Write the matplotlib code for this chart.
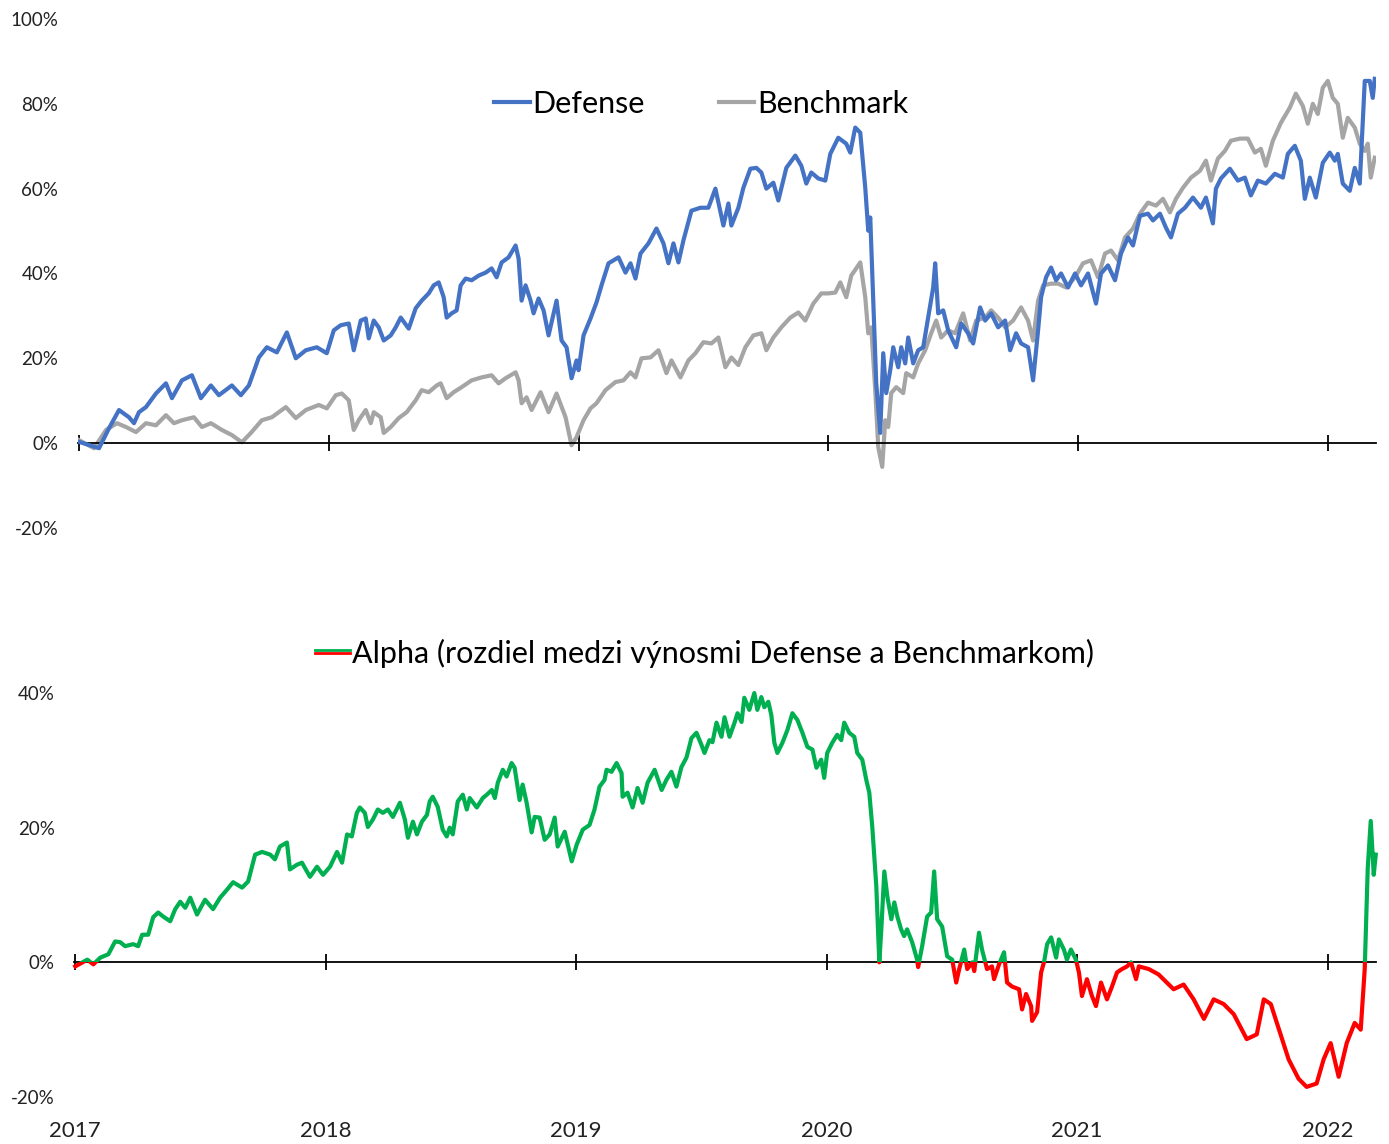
import numpy as np
import matplotlib
matplotlib.use("Agg")
from matplotlib import pyplot as plt
from matplotlib.lines import Line2D
from matplotlib.patches import Rectangle
from matplotlib.legend_handler import HandlerBase
from matplotlib.ticker import FuncFormatter

plt.rcParams['font.family'] = ['Lato', 'DejaVu Sans']

# cumulative returns in %, time as decimal year
defense_t = [2017.000, 2017.080, 2017.120, 2017.160, 2017.200, 2017.220, 2017.240, 2017.268, 2017.308, 2017.348,
             2017.372, 2017.412, 2017.452, 2017.488, 2017.528, 2017.560, 2017.612, 2017.648, 2017.680, 2017.720,
             2017.752, 2017.792, 2017.832, 2017.868, 2017.908, 2017.952, 2017.992, 2018.020, 2018.048, 2018.080,
             2018.100, 2018.128, 2018.148, 2018.160, 2018.180, 2018.200, 2018.220, 2018.248, 2018.268, 2018.288,
             2018.320, 2018.348, 2018.372, 2018.400, 2018.420, 2018.440, 2018.460, 2018.472, 2018.492, 2018.512,
             2018.528, 2018.548, 2018.572, 2018.600, 2018.628, 2018.652, 2018.672, 2018.692, 2018.720, 2018.748,
             2018.760, 2018.772, 2018.788, 2018.808, 2018.820, 2018.840, 2018.860, 2018.880, 2018.912, 2018.932,
             2018.952, 2018.972, 2018.992, 2019.000, 2019.020, 2019.048, 2019.072, 2019.092, 2019.120, 2019.160,
             2019.188, 2019.208, 2019.228, 2019.248, 2019.280, 2019.312, 2019.340, 2019.360, 2019.380, 2019.400,
             2019.420, 2019.452, 2019.488, 2019.520, 2019.548, 2019.580, 2019.600, 2019.612, 2019.640, 2019.660,
             2019.688, 2019.712, 2019.732, 2019.752, 2019.780, 2019.800, 2019.832, 2019.868, 2019.892, 2019.912,
             2019.932, 2019.960, 2019.988, 2020.008, 2020.040, 2020.072, 2020.088, 2020.108, 2020.128, 2020.148,
             2020.160, 2020.168, 2020.180, 2020.192, 2020.208, 2020.220, 2020.232, 2020.248, 2020.260, 2020.280,
             2020.292, 2020.308, 2020.320, 2020.340, 2020.360, 2020.380, 2020.400, 2020.420, 2020.428, 2020.440,
             2020.460, 2020.480, 2020.512, 2020.532, 2020.560, 2020.580, 2020.608, 2020.628, 2020.652, 2020.680,
             2020.708, 2020.728, 2020.752, 2020.772, 2020.800, 2020.820, 2020.840, 2020.852, 2020.872, 2020.892,
             2020.912, 2020.932, 2020.960, 2020.988, 2021.012, 2021.040, 2021.072, 2021.092, 2021.120, 2021.148,
             2021.172, 2021.200, 2021.220, 2021.248, 2021.280, 2021.300, 2021.328, 2021.352, 2021.372, 2021.400,
             2021.428, 2021.460, 2021.492, 2021.512, 2021.540, 2021.552, 2021.572, 2021.608, 2021.640, 2021.668,
             2021.692, 2021.720, 2021.752, 2021.788, 2021.820, 2021.840, 2021.868, 2021.892, 2021.908, 2021.928,
             2021.952, 2021.980, 2022.008, 2022.028, 2022.040, 2022.060, 2022.088, 2022.108, 2022.128, 2022.148,
             2022.168, 2022.180, 2022.188]
defense_v = [0.3, -1.2, 3.5, 7.8, 6.1, 4.7, 7.3, 8.5, 11.7, 14.1,
             10.6, 14.8, 16.0, 10.6, 13.6, 11.3, 13.6, 11.3, 13.6, 20.2,
             22.6, 21.4, 26.1, 20.0, 21.9, 22.6, 21.2, 26.6, 27.8, 28.2,
             21.9, 28.9, 29.4, 24.7, 28.9, 27.3, 24.2, 25.4, 27.3, 29.6,
             27.0, 31.8, 33.6, 35.3, 37.2, 37.9, 34.4, 29.6, 30.6, 31.3,
             37.2, 38.8, 38.4, 39.5, 40.2, 41.2, 39.1, 42.6, 43.8, 46.6,
             43.5, 33.6, 37.2, 33.6, 30.6, 34.1, 31.3, 25.4, 33.6, 24.2,
             22.6, 15.3, 19.5, 17.2, 25.4, 29.4, 33.2, 37.2, 42.4, 43.8,
             40.2, 42.4, 38.8, 44.7, 47.1, 50.6, 47.1, 42.4, 47.1, 42.6,
             47.8, 54.8, 55.5, 55.5, 60.0, 51.3, 56.5, 51.3, 55.5, 60.2,
             64.7, 64.9, 63.8, 60.0, 61.4, 57.2, 64.9, 67.8, 65.4, 61.2,
             63.8, 62.4, 61.9, 68.2, 72.0, 70.6, 68.5, 74.4, 73.2, 60.2,
             50.1, 53.2, 33.6, 14.1, 2.4, 21.2, 11.8, 17.2, 22.6, 17.9,
             22.6, 18.8, 24.9, 18.8, 21.9, 22.6, 29.6, 36.7, 42.4, 30.6,
             31.3, 26.6, 22.6, 28.2, 25.9, 23.5, 32.0, 28.9, 30.6, 27.3,
             28.9, 21.9, 25.9, 23.5, 22.6, 14.8, 26.6, 34.4, 39.1, 41.4,
             38.4, 40.0, 36.7, 40.0, 37.2, 40.0, 32.9, 40.0, 41.9, 38.4,
             44.7, 48.5, 46.6, 53.6, 54.1, 52.5, 54.1, 50.8, 48.5, 54.1,
             55.5, 57.9, 55.5, 57.9, 51.8, 60.0, 62.4, 64.7, 61.9, 62.6,
             58.4, 61.9, 61.2, 63.5, 62.6, 68.2, 70.1, 66.6, 57.6, 62.6,
             57.9, 66.1, 68.5, 66.6, 68.2, 61.2, 59.5, 64.9, 61.2, 85.4,
             85.4, 81.4, 85.9]

bench_t = [2017.000, 2017.060, 2017.108, 2017.152, 2017.188, 2017.228, 2017.268, 2017.308, 2017.348, 2017.380,
           2017.412, 2017.460, 2017.492, 2017.528, 2017.572, 2017.612, 2017.652, 2017.688, 2017.732, 2017.772,
           2017.828, 2017.868, 2017.908, 2017.960, 2017.992, 2018.028, 2018.052, 2018.080, 2018.100, 2018.120,
           2018.148, 2018.168, 2018.180, 2018.208, 2018.220, 2018.248, 2018.280, 2018.312, 2018.348, 2018.372,
           2018.400, 2018.432, 2018.448, 2018.472, 2018.500, 2018.532, 2018.572, 2018.612, 2018.652, 2018.680,
           2018.708, 2018.748, 2018.760, 2018.772, 2018.792, 2018.812, 2018.848, 2018.880, 2018.912, 2018.948,
           2018.972, 2018.992, 2019.020, 2019.048, 2019.072, 2019.108, 2019.148, 2019.180, 2019.208, 2019.228,
           2019.252, 2019.288, 2019.320, 2019.352, 2019.372, 2019.408, 2019.440, 2019.468, 2019.500, 2019.532,
           2019.560, 2019.588, 2019.612, 2019.640, 2019.668, 2019.700, 2019.732, 2019.752, 2019.780, 2019.812,
           2019.848, 2019.880, 2019.908, 2019.940, 2019.972, 2020.000, 2020.028, 2020.048, 2020.072, 2020.092,
           2020.128, 2020.148, 2020.160, 2020.172, 2020.188, 2020.200, 2020.216, 2020.228, 2020.240, 2020.252,
           2020.272, 2020.300, 2020.312, 2020.340, 2020.360, 2020.388, 2020.412, 2020.432, 2020.452, 2020.480,
           2020.508, 2020.540, 2020.568, 2020.592, 2020.628, 2020.652, 2020.680, 2020.708, 2020.740, 2020.772,
           2020.800, 2020.820, 2020.840, 2020.860, 2020.892, 2020.920, 2020.952, 2020.988, 2021.020, 2021.052,
           2021.080, 2021.108, 2021.132, 2021.160, 2021.188, 2021.220, 2021.248, 2021.280, 2021.312, 2021.340,
           2021.368, 2021.392, 2021.420, 2021.452, 2021.488, 2021.512, 2021.532, 2021.560, 2021.588, 2021.612,
           2021.648, 2021.680, 2021.708, 2021.732, 2021.752, 2021.780, 2021.812, 2021.848, 2021.872, 2021.900,
           2021.920, 2021.940, 2021.960, 2021.980, 2022.000, 2022.020, 2022.040, 2022.060, 2022.080, 2022.108,
           2022.128, 2022.148, 2022.160, 2022.172, 2022.188]
bench_v = [0.7, -1.2, 3.1, 4.7, 3.8, 2.6, 4.7, 4.2, 6.6, 4.7,
           5.4, 6.1, 3.8, 4.7, 3.1, 1.9, 0.2, 2.4, 5.4, 6.1,
           8.5, 5.9, 7.8, 9.0, 8.2, 11.3, 11.7, 10.1, 3.1, 5.4,
           7.8, 4.7, 7.3, 6.1, 2.4, 3.8, 5.9, 7.3, 10.1, 12.5,
           12.0, 13.6, 14.1, 10.6, 12.0, 13.2, 14.8, 15.5, 16.0, 14.1,
           15.3, 16.7, 14.8, 9.4, 10.8, 7.8, 12.0, 7.3, 11.7, 6.1,
           -0.5, 1.4, 5.4, 8.2, 9.4, 12.5, 14.4, 14.8, 16.7, 15.5,
           20.0, 20.2, 21.9, 16.5, 19.5, 15.5, 19.5, 21.2, 23.8, 23.5,
           24.9, 17.9, 20.2, 18.4, 22.6, 25.4, 25.9, 21.9, 24.9, 27.3,
           29.6, 30.8, 28.9, 32.9, 35.3, 35.3, 35.5, 37.9, 34.4, 39.5,
           42.6, 34.4, 25.9, 27.3, 12.5, -0.9, -5.6, 5.4, 3.8, 11.8,
           13.2, 11.8, 16.5, 15.5, 18.8, 21.9, 25.9, 28.9, 24.9, 26.6,
           25.9, 30.6, 24.2, 28.9, 29.6, 31.3, 29.6, 27.3, 28.9, 32.0,
           28.9, 24.2, 33.6, 37.2, 37.6, 37.6, 36.7, 39.1, 42.4, 43.1,
           39.1, 44.7, 45.4, 43.1, 48.5, 50.6, 54.1, 56.7, 56.0, 57.6,
           54.4, 57.6, 60.2, 62.6, 64.2, 66.6, 61.9, 67.1, 68.9, 71.3,
           71.8, 71.8, 68.5, 69.4, 65.4, 71.3, 75.5, 79.1, 82.4, 79.5,
           75.3, 80.0, 77.6, 83.8, 85.4, 81.4, 80.0, 72.0, 76.7, 74.4,
           70.6, 68.9, 70.6, 62.6, 67.3]

# alpha = Defense minus Benchmark
alpha_t = [2017.000, 2017.048, 2017.072, 2017.100, 2017.132, 2017.159, 2017.179, 2017.199, 2017.231, 2017.251,
           2017.267, 2017.291, 2017.311, 2017.331, 2017.351, 2017.379, 2017.399, 2017.419, 2017.439, 2017.459,
           2017.486, 2017.518, 2017.550, 2017.578, 2017.606, 2017.630, 2017.666, 2017.690, 2017.718, 2017.746,
           2017.778, 2017.797, 2017.817, 2017.845, 2017.857, 2017.885, 2017.905, 2017.937, 2017.965, 2017.989,
           2018.017, 2018.045, 2018.065, 2018.085, 2018.104, 2018.124, 2018.136, 2018.156, 2018.168, 2018.188,
           2018.208, 2018.228, 2018.248, 2018.268, 2018.296, 2018.316, 2018.328, 2018.348, 2018.364, 2018.384,
           2018.404, 2018.415, 2018.427, 2018.447, 2018.467, 2018.483, 2018.495, 2018.507, 2018.527, 2018.547,
           2018.563, 2018.575, 2018.603, 2018.627, 2018.643, 2018.663, 2018.675, 2018.687, 2018.707, 2018.722,
           2018.742, 2018.754, 2018.774, 2018.786, 2018.802, 2018.822, 2018.834, 2018.854, 2018.874, 2018.894,
           2018.914, 2018.926, 2018.954, 2018.966, 2018.982, 2019.002, 2019.026, 2019.053, 2019.073, 2019.093,
           2019.113, 2019.121, 2019.141, 2019.161, 2019.181, 2019.185, 2019.205, 2019.225, 2019.245, 2019.265,
           2019.285, 2019.313, 2019.341, 2019.360, 2019.380, 2019.400, 2019.420, 2019.440, 2019.460, 2019.480,
           2019.500, 2019.512, 2019.532, 2019.544, 2019.560, 2019.580, 2019.592, 2019.612, 2019.632, 2019.644,
           2019.660, 2019.671, 2019.691, 2019.711, 2019.723, 2019.739, 2019.751, 2019.767, 2019.779, 2019.791,
           2019.803, 2019.823, 2019.843, 2019.863, 2019.883, 2019.903, 2019.923, 2019.943, 2019.959, 2019.978,
           2019.990, 2020.002, 2020.022, 2020.042, 2020.058, 2020.070, 2020.090, 2020.110, 2020.122, 2020.142,
           2020.158, 2020.170, 2020.182, 2020.198, 2020.210, 2020.218, 2020.230, 2020.242, 2020.258, 2020.270,
           2020.282, 2020.297, 2020.309, 2020.321, 2020.341, 2020.361, 2020.365, 2020.381, 2020.401, 2020.417,
           2020.429, 2020.441, 2020.461, 2020.481, 2020.501, 2020.517, 2020.529, 2020.549, 2020.561, 2020.581,
           2020.589, 2020.608, 2020.620, 2020.640, 2020.660, 2020.668, 2020.688, 2020.708, 2020.720, 2020.740,
           2020.768, 2020.780, 2020.796, 2020.816, 2020.820, 2020.840, 2020.856, 2020.868, 2020.880, 2020.896,
           2020.916, 2020.927, 2020.947, 2020.959, 2020.975, 2020.995, 2021.007, 2021.019, 2021.039, 2021.059,
           2021.075, 2021.095, 2021.119, 2021.139, 2021.159, 2021.179, 2021.199, 2021.215, 2021.235, 2021.246,
           2021.286, 2021.325, 2021.385, 2021.425, 2021.465, 2021.506, 2021.545, 2021.585, 2021.625, 2021.677,
           2021.717, 2021.745, 2021.773, 2021.805, 2021.844, 2021.884, 2021.916, 2021.956, 2021.984, 2022.012,
           2022.044, 2022.076, 2022.108, 2022.132, 2022.148, 2022.160, 2022.172, 2022.184, 2022.192]
alpha_v = [-0.6, 0.4, -0.3, 0.7, 1.2, 3.1, 3.0, 2.4, 2.7, 2.4,
           4.1, 4.1, 6.7, 7.4, 6.8, 6.1, 7.9, 9.0, 8.1, 9.6,
           7.1, 9.3, 7.9, 9.6, 10.8, 11.9, 11.1, 12.0, 16.0, 16.4,
           16.0, 15.3, 17.2, 17.8, 13.8, 14.5, 14.8, 12.7, 14.2, 13.0,
           14.2, 16.4, 14.8, 19.0, 18.7, 22.2, 23.0, 22.2, 20.1, 21.2,
           22.7, 22.2, 22.7, 21.6, 23.7, 21.2, 18.5, 20.9, 19.0, 20.9,
           21.9, 23.9, 24.6, 23.1, 19.7, 18.7, 20.0, 19.0, 23.9, 24.9,
           22.7, 24.4, 23.0, 24.4, 24.9, 25.6, 24.4, 26.7, 28.6, 27.6,
           29.6, 28.9, 24.1, 26.4, 23.7, 19.3, 21.6, 21.5, 18.2, 19.0,
           21.5, 17.2, 19.4, 17.5, 15.0, 17.5, 19.7, 20.4, 22.7, 26.1,
           27.1, 28.6, 28.3, 29.6, 28.1, 24.6, 25.2, 23.0, 25.9, 23.7,
           26.7, 28.6, 25.6, 27.1, 28.3, 26.1, 29.0, 30.4, 33.3, 34.1,
           32.3, 31.1, 33.0, 32.7, 35.6, 33.5, 36.4, 33.5, 35.6, 37.0,
           35.7, 39.3, 37.5, 40.0, 37.5, 39.4, 37.9, 38.7, 36.7, 32.6,
           31.1, 32.6, 34.5, 37.0, 36.0, 34.1, 32.0, 31.6, 28.9, 30.1,
           27.4, 31.1, 32.6, 33.8, 33.0, 35.6, 34.1, 33.5, 31.1, 30.1,
           27.1, 25.2, 20.1, 11.3, 0.0, 4.9, 13.5, 9.8, 6.4, 8.9,
           6.8, 4.9, 3.9, 4.9, 3.0, 0.4, -0.7, 2.4, 6.8, 7.4,
           13.5, 6.4, 5.3, 0.9, 0.4, -3.0, -1.0, 1.9, -1.0, 0.0,
           -1.3, 4.4, 1.9, -1.0, -0.6, -2.5, -0.3, 1.5, -3.0, -3.6,
           -4.0, -7.0, -4.7, -6.5, -8.7, -7.4, -1.5, 0.1, 2.7, 3.7,
           0.7, 3.4, 1.9, 0.4, 1.9, 0.4, -1.5, -5.0, -2.5, -5.0,
           -6.5, -3.0, -5.5, -3.6, -1.5, -1.0, -0.6, 0.0, -2.5, -0.6,
           -1.0, -1.8, -4.0, -3.3, -5.5, -8.4, -5.5, -6.2, -7.7, -11.4,
           -10.7, -5.5, -6.2, -9.9, -14.4, -17.3, -18.5, -18.0, -14.4, -12.0,
           -17.0, -12.0, -9.0, -10.0, -1.0, 14.0, 21.0, 13.0, 16.0]

years = [2017, 2018, 2019, 2020, 2021, 2022]
top_ticks = [-20, 0, 20, 40, 60, 80, 100]
bottom_ticks = [-20, 0, 20, 40]

BLUE = '#4472C4'
GREY = '#A5A5A5'
GREEN = '#00B050'
RED = '#FF0000'
XMIN, XMAX = 2016.995, 2022.195
LW = 3.0


class TwoLineHandler(HandlerBase):
    # green over red, like the legend key of the original
    def create_artists(self, legend, orig_handle, xdescent, ydescent,
                       width, height, fontsize, trans):
        y = height / 2 - ydescent
        g = Line2D([-xdescent, width - xdescent], [y + 1.1, y + 1.1],
                   color=GREEN, lw=2.0, transform=trans)
        r = Line2D([-xdescent, width - xdescent], [y - 1.1, y - 1.1],
                   color=RED, lw=2.0, transform=trans)
        return [g, r]


def style_axis(ax, yticks):
    for side in ['top', 'right', 'left']:
        ax.spines[side].set_visible(False)
    ax.spines['bottom'].set_position(('data', 0))
    ax.spines['bottom'].set_linewidth(1.3)
    ax.set_xlim(XMIN, XMAX)
    ax.set_xticks(years)
    ax.tick_params(axis='x', direction='inout', length=11, width=1.3,
                   labelbottom=False)
    ax.set_yticks(yticks)
    ax.set_ylim(yticks[0], yticks[-1])
    ax.yaxis.set_major_formatter(FuncFormatter(lambda v, p: '%d%%' % v))
    ax.tick_params(axis='y', length=0, pad=14, labelsize=13.5, labelcolor='#222222')


fig = plt.figure(figsize=(13.89, 11.44), dpi=100)
ax1 = fig.add_axes([0.056, 0.5385, 0.935, 0.4449])
ax2 = fig.add_axes([0.0533, 0.0411, 0.9377, 0.3531])

# top panel
ax1.plot(bench_t, bench_v, color=GREY, lw=LW, label='Benchmark', zorder=2)
ax1.plot(defense_t, defense_v, color=BLUE, lw=LW, label='Defense', zorder=3)
style_axis(ax1, top_ticks)
h, l = ax1.get_legend_handles_labels()
ax1.legend(h[::-1], l[::-1], ncol=2, loc='center', bbox_to_anchor=(0.48, 0.833),
           frameon=False, fontsize=22, handlelength=1.15, handletextpad=0.08,
           columnspacing=2.45)

# bottom panel, green above zero and red below
g_line, = ax2.plot(alpha_t, alpha_v, color=GREEN, lw=LW, zorder=3)
r_line, = ax2.plot(alpha_t, alpha_v, color=RED, lw=LW, zorder=3)
g_line.set_clip_path(Rectangle((XMIN - 1, 0), 10, 200, transform=ax2.transData))
r_line.set_clip_path(Rectangle((XMIN - 1, -200), 10, 200, transform=ax2.transData))
style_axis(ax2, bottom_ticks)

for yr in years:
    ax2.text(yr, -0.084, str(yr), transform=ax2.get_xaxis_transform(),
             ha='center', va='center', fontsize=16, color='#222222')

proxy = Line2D([], [])
ax2.legend([proxy], ['Alpha (rozdiel medzi výnosmi Defense a Benchmarkom)'],
           handler_map={proxy: TwoLineHandler()}, loc='center',
           bbox_to_anchor=(0.484, 1.099), frameon=False, fontsize=22,
           handlelength=1.15, handletextpad=0.08)

plt.savefig('out.png', dpi=100)
